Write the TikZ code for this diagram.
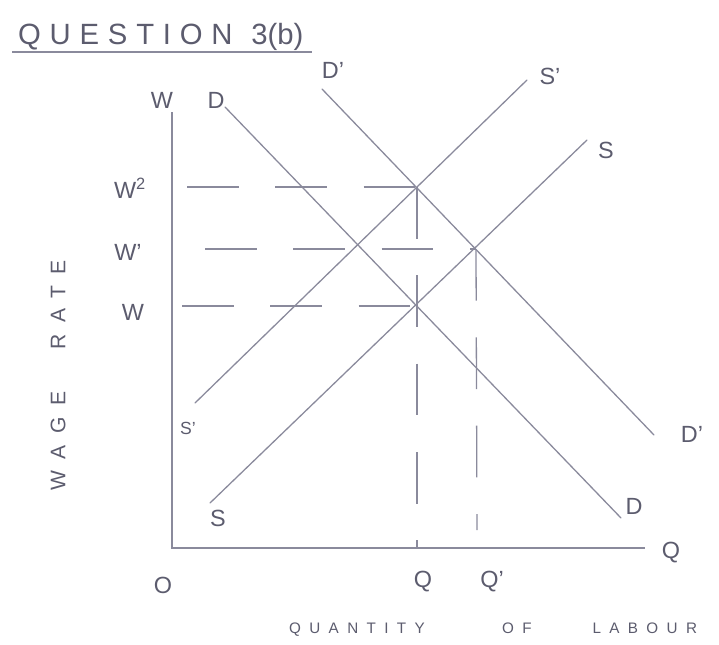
\documentclass[tikz,border=0pt]{standalone}
\usepackage{fontspec}
\setmainfont{Liberation Sans}
\newfontfamily\spreadfont[LetterSpace=55]{Liberation Sans}
\newfontfamily\titlefont[LetterSpace=30]{Liberation Sans}
\usetikzlibrary{calc}
\definecolor{pencil}{HTML}{8A8A9C}
\definecolor{pencilText}{HTML}{5C5C6E}

\tikzset{
  curve/.style={pencil,line width=1.1pt,line cap=round},
  axisline/.style={pencil,line width=1.2pt},
  guide/.style={pencil,line width=1.1pt,dash pattern=on 15.5mm off 11mm},
  lbl/.style={pencilText,font=\fontsize{20}{20}\selectfont},
}

\begin{document}
\begin{tikzpicture}[x=0.3mm,y=-0.3mm]
\useasboundingbox (0,0) rectangle (719,645);
% title
\node[pencilText,font=\fontsize{25}{25}\selectfont,anchor=west] (title) at (14,37) {{\titlefont QUESTION}\hspace{16pt}3(b)};
\draw[axisline] (12,52) -- (312,52);
% axes
\coordinate (O) at (172,548);
\coordinate (ytop) at (172,112);
\coordinate (xend) at (645,548);
\draw[axisline] (ytop) -- (O) -- (xend);
% curves
\coordinate (D0) at (225,107);  \coordinate (D1) at (621,518);
\coordinate (Dp0) at (322,89);  \coordinate (Dp1) at (654,435);
\coordinate (S0) at (210,503);  \coordinate (S1) at (587,140);
\coordinate (Sp0) at (195,403); \coordinate (Sp1) at (527,80);
\draw[curve] (D0) -- (D1);
\draw[curve] (Dp0) -- (Dp1);
\draw[curve] (S0) -- (S1);
\draw[curve] (Sp0) -- (Sp1);
% equilibria
\coordinate (eA) at (417,306);
\coordinate (eB) at (417,187);
\coordinate (eC) at (476,249);
\coordinate (wA) at (182,306);
\coordinate (wB) at (187,187);
\coordinate (wC) at (205,249);
\coordinate (qC) at (477,530);
\draw[guide] (wA) -- (eA);
\draw[guide] (wB) -- (eB);
\draw[guide] (wC) -- (eC);
\draw[guide] (eB) -- (eB |- O);
\draw[guide] (eC) -- (qC);
% labels
\node[lbl] (lW) at (162,100) {W};
\node[lbl] (lD) at (216,100) {D};
\node[lbl] (lDp) at (333,70) {D'};
\node[lbl] (lSp) at (550,76) {S'};
\node[lbl] (lS) at (606,150) {S};
\node[lbl] (lW2) at (130,188) {W\textsuperscript{2}};
\node[lbl] (lW1) at (128,252) {W'};
\node[lbl] (lW0) at (133,312) {W};
\node[lbl,font=\fontsize{15}{15}\selectfont] (lSp2) at (188,428) {S'};
\node[lbl] (lS2) at (218,518) {S};
\node[lbl] (lD2) at (634,506) {D};
\node[lbl] (lDp2) at (692,434) {D'};
\node[lbl] (lQ) at (671,553) {Q};
\node[lbl] (lO) at (163,585) {O};
\node[lbl] (lQ0) at (423,582) {Q};
\node[lbl] (lQ1) at (492,582) {Q'};
\node[pencilText,font=\spreadfont\fontsize{18}{18}\selectfont,rotate=90] (ylab) at (58,375) {WAGE\hspace{36pt}RATE};
\node[pencilText,font=\spreadfont\fontsize{13}{13}\selectfont,anchor=west] (xlab) at (285,630) {QUANTITY\hspace{66pt}OF\hspace{52pt}LABOUR};
\end{tikzpicture}
\end{document}
